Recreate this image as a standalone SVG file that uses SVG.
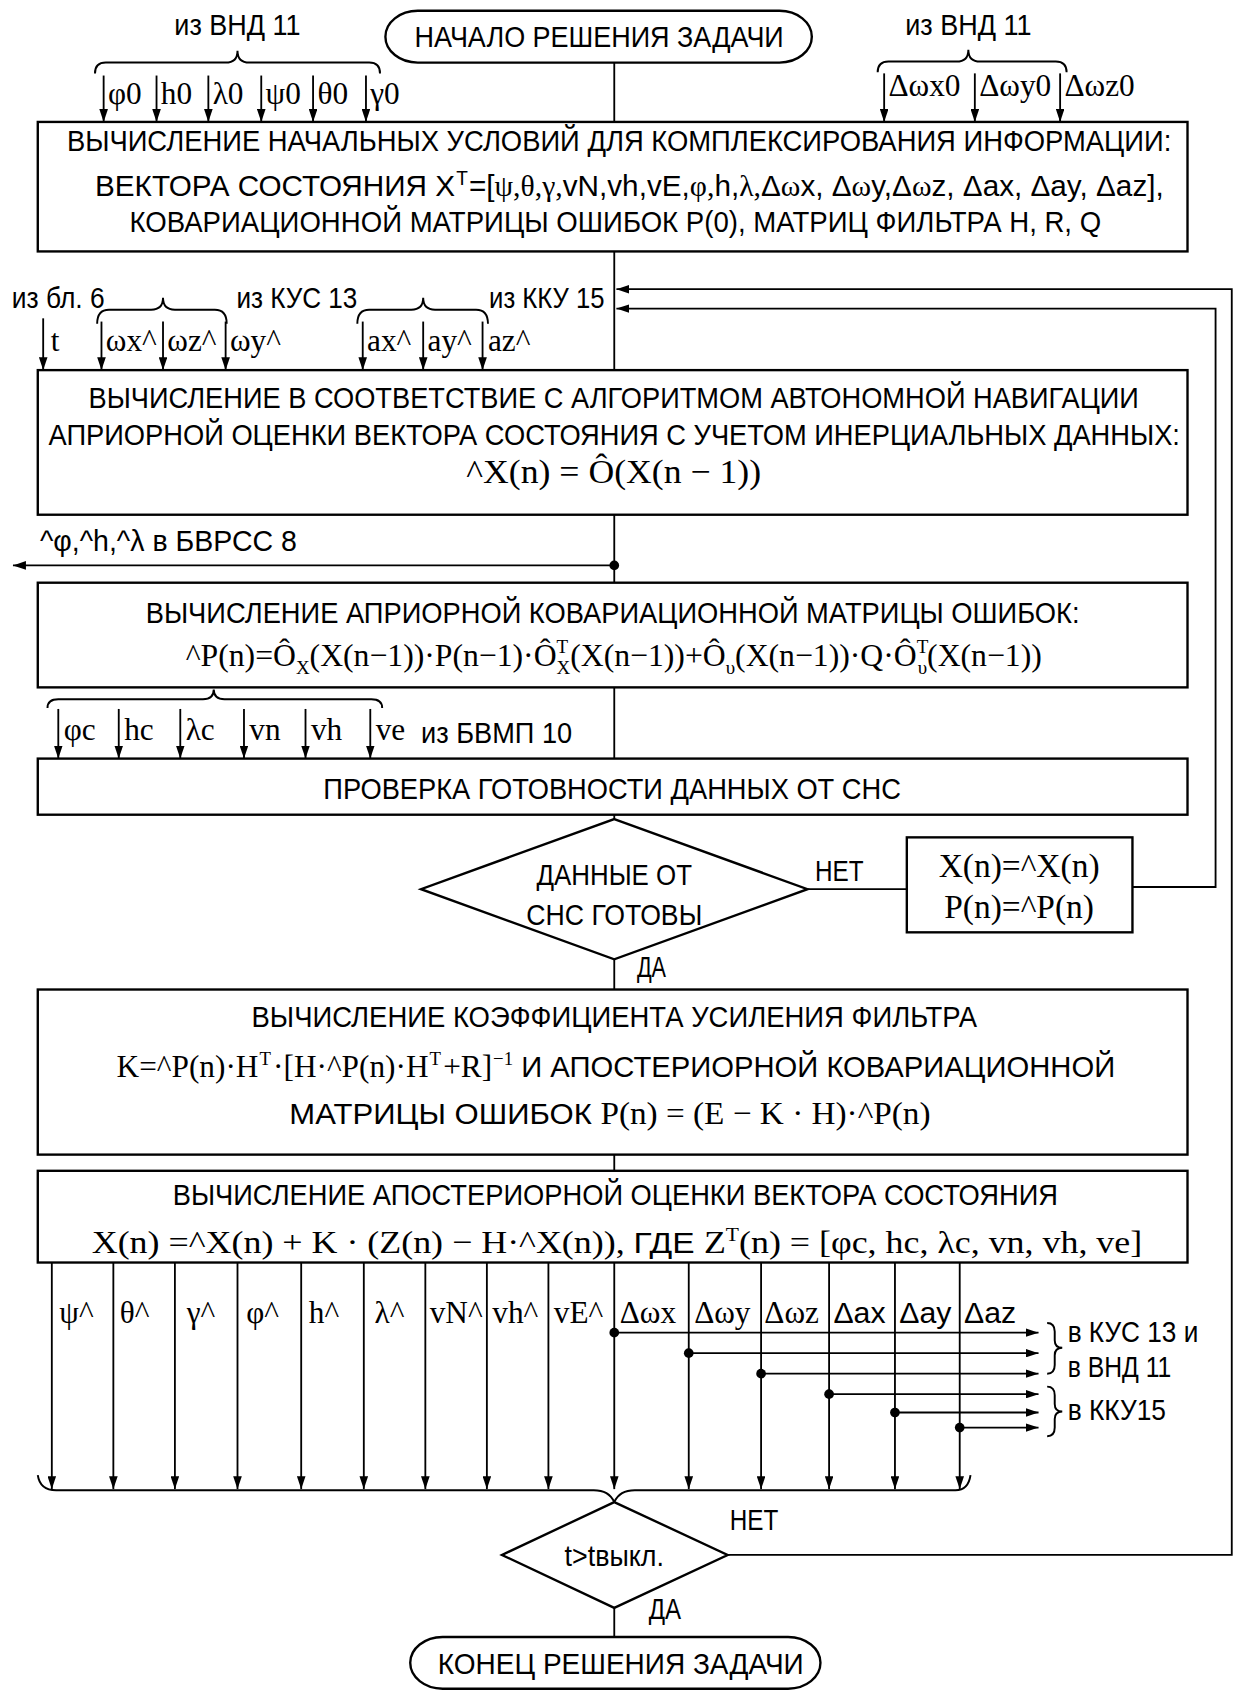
<svg xmlns="http://www.w3.org/2000/svg" width="1235" height="1692" viewBox="0 0 1235 1692">
<defs>
<style>
.box{fill:#fff;stroke:#000;stroke-width:2.2}
.ln{fill:none;stroke:#000;stroke-width:1.7}
.br{fill:none;stroke:#000;stroke-width:1.8}
.s{font-family:"Liberation Sans",Arial,sans-serif;font-size:28px;fill:#000}
.w{font-size:26.5px}
.f{font-family:"Liberation Serif","Times New Roman",serif;font-size:30px;fill:#000}
.g{font-family:"Liberation Serif","Times New Roman",serif}
.lb{font-family:"Liberation Serif","Times New Roman",serif;font-size:29px;fill:#000}
.sup{font-size:18px}
.m{text-anchor:middle}
</style>
<marker id="ah" viewBox="0 0 12 8" refX="12" refY="4" markerWidth="12" markerHeight="8" markerUnits="userSpaceOnUse" orient="auto"><path d="M0,0 L12,4 L0,8 z" fill="#000"/></marker>
</defs>
<rect width="1235" height="1692" fill="#fff"/>
<g transform="scale(1.07955,1.07908)">

<g id="connectors">
<path class="ln" d="M569,58 L569,113"/>
<path class="ln" d="M569,233 L569,343"/>
<path class="ln" d="M569,477 L569,540"/>
<path class="ln" d="M569,637 L569,703"/>
<path class="ln" d="M569,755 L569,759"/>
<path class="ln" d="M569,889 L569,917"/>
<path class="ln" d="M569,1070 L569,1085"/>
<path class="ln" d="M569,1490 L569,1517"/>
<path class="ln" d="M748,824 L840,824"/>
<path class="ln" d="M674,1441 L1141,1441 L1141,268 L571,268" marker-end="url(#ah)"/>
<path class="ln" d="M1049,822 L1126,822 L1126,286 L571,286" marker-end="url(#ah)"/>
<path class="ln" d="M569,524 L12,524" marker-end="url(#ah)"/>
<circle cx="569" cy="524" r="4.5"/>
<g class="ln" marker-end="url(#ah)">
<path d="M96,70 L96,113"/><path d="M145,70 L145,113"/><path d="M193,70 L193,113"/><path d="M242,70 L242,113"/><path d="M290,70 L290,113"/><path d="M339,70 L339,113"/>
<path d="M819,68 L819,113"/><path d="M903,68 L903,113"/><path d="M982,68 L982,113"/>
<path d="M40,295 L40,343"/><path d="M94,298 L94,343"/><path d="M151,298 L151,343"/><path d="M209,298 L209,343"/><path d="M336,298 L336,343"/><path d="M392,298 L392,343"/><path d="M447,298 L447,343"/>
<path d="M54,657 L54,703"/><path d="M110,657 L110,703"/><path d="M167,657 L167,703"/><path d="M226,657 L226,703"/><path d="M283,657 L283,703"/><path d="M343,657 L343,703"/>
<path d="M48,1170 L48,1380"/><path d="M105,1170 L105,1380"/><path d="M162,1170 L162,1380"/><path d="M220,1170 L220,1380"/><path d="M279,1170 L279,1380"/><path d="M337,1170 L337,1380"/><path d="M394,1170 L394,1380"/><path d="M451,1170 L451,1380"/><path d="M508,1170 L508,1380"/><path d="M569,1170 L569,1380"/><path d="M638,1170 L638,1380"/><path d="M705,1170 L705,1380"/><path d="M768,1170 L768,1380"/><path d="M829,1170 L829,1380"/><path d="M889,1170 L889,1380"/>
<path d="M569,1235 L962,1235"/><path d="M638,1254 L962,1254"/><path d="M705,1273 L962,1273"/><path d="M768,1292 L962,1292"/><path d="M829,1309 L962,1309"/><path d="M889,1323 L962,1323"/>
</g>
<circle cx="569" cy="1235" r="4.5"/><circle cx="638" cy="1254" r="4.5"/><circle cx="705" cy="1273" r="4.5"/><circle cx="768" cy="1292" r="4.5"/><circle cx="829" cy="1309" r="4.5"/><circle cx="889" cy="1323" r="4.5"/>
<path class="br" d="M88,68 Q88,58 98,58 L209,58 Q220,58 220,47 Q220,58 231,58 L342,58 Q352,58 352,68"/>
<path class="br" d="M813,67 Q813,57 823,57 L886,57 Q897,57 897,46 Q897,57 908,57 L978,57 Q988,57 988,67"/>
<path class="br" d="M90,300 Q90,287 101,287 L140,287 Q151,287 151,276 Q151,287 162,287 L199,287 Q210,287 210,300"/>
<path class="br" d="M331,300 Q331,287 342,287 L381,287 Q392,287 392,276 Q392,287 403,287 L441,287 Q452,287 452,300"/>
<path class="br" d="M44,656 Q44,648 54,648 L188,648 Q198,648 198,639 Q198,648 208,648 L344,648 Q354,648 354,656"/>
<path class="br" d="M970,1226 Q977,1226 977,1234 L977,1242 Q977,1249 984,1249 Q977,1249 977,1256 L977,1265 Q977,1273 970,1273"/>
<path class="br" d="M970,1285 Q977,1285 977,1293 L977,1301 Q977,1308 984,1308 Q977,1308 977,1315 L977,1323 Q977,1331 970,1331"/>
<path class="br" d="M35,1367 Q37,1381 52,1381 L550,1381 Q564,1381 569,1392 Q574,1381 588,1381 L885,1381 Q897,1381 899,1367"/>
</g>

<g id="labels">
<text class="s m" x="220" y="32" textLength="117" lengthAdjust="spacingAndGlyphs">из ВНД 11</text>
<text class="s m" x="897" y="32" textLength="117" lengthAdjust="spacingAndGlyphs">из ВНД 11</text>
<text class="lb" y="96"><tspan x="100">φ0</tspan><tspan x="149">h0</tspan><tspan x="197">λ0</tspan><tspan x="246">ψ0</tspan><tspan x="294">θ0</tspan><tspan x="343">γ0</tspan></text>
<text class="lb" y="89"><tspan x="823">Δωx0</tspan><tspan x="907">Δωy0</tspan><tspan x="986">Δωz0</tspan></text>
<text class="s" x="11" y="285" textLength="86" lengthAdjust="spacingAndGlyphs">из бл. 6</text>
<text class="s" x="219" y="285" textLength="112" lengthAdjust="spacingAndGlyphs">из КУС 13</text>
<text class="s" x="453" y="285" textLength="107" lengthAdjust="spacingAndGlyphs">из ККУ 15</text>
<text class="lb" y="325"><tspan x="47">t</tspan><tspan x="98">ωx^</tspan><tspan x="155">ωz^</tspan><tspan x="213">ωy^</tspan><tspan x="340">ax^</tspan><tspan x="396">ay^</tspan><tspan x="452">az^</tspan></text>
<text class="s" x="37" y="511" textLength="238" lengthAdjust="spacingAndGlyphs">^φ,^h,^λ  в БВРСС 8</text>
<text class="lb" y="686"><tspan x="59">φc</tspan><tspan x="115">hc</tspan><tspan x="172">λc</tspan><tspan x="231">vn</tspan><tspan x="288">vh</tspan><tspan x="348">ve</tspan></text>
<text class="s" x="390" y="689" textLength="140" lengthAdjust="spacingAndGlyphs">из БВМП 10</text>
<text class="s" x="755" y="816" textLength="45" lengthAdjust="spacingAndGlyphs">НЕТ</text>
<text class="s" x="590" y="905" textLength="27" lengthAdjust="spacingAndGlyphs">ДА</text>
<text class="lb" y="1226"><tspan x="55">ψ^</tspan><tspan x="111">θ^</tspan><tspan x="173">γ^</tspan><tspan x="228">φ^</tspan><tspan x="286">h^</tspan><tspan x="347">λ^</tspan><tspan x="398">vN^</tspan><tspan x="456">vh^</tspan><tspan x="513">vE^</tspan><tspan x="574">Δωx</tspan><tspan x="643">Δωy</tspan><tspan x="708">Δωz</tspan></text>
<text class="s" y="1226"><tspan x="772">Δax</tspan><tspan x="833">Δay</tspan><tspan x="893">Δaz</tspan></text>
<text class="s" x="989" y="1244" textLength="121" lengthAdjust="spacingAndGlyphs">в КУС 13 и</text>
<text class="s" x="989" y="1276" textLength="96" lengthAdjust="spacingAndGlyphs">в ВНД 11</text>
<text class="s" x="989" y="1316" textLength="91" lengthAdjust="spacingAndGlyphs">в ККУ15</text>
<text class="s" x="676" y="1418" textLength="45" lengthAdjust="spacingAndGlyphs">НЕТ</text>
<text class="s" x="601" y="1500" textLength="30" lengthAdjust="spacingAndGlyphs">ДА</text>
</g>

<g id="start">
<rect class="box" x="357" y="10" width="395" height="48" rx="30" ry="24"/>
<text class="s m" x="555" y="44" textLength="342" lengthAdjust="spacingAndGlyphs">НАЧАЛО РЕШЕНИЯ ЗАДАЧИ</text>
</g>

<g id="box1">
<rect class="box" x="35" y="113" width="1065" height="120"/>
<text class="s w" x="62" y="140" textLength="1023" lengthAdjust="spacingAndGlyphs">ВЫЧИСЛЕНИЕ НАЧАЛЬНЫХ УСЛОВИЙ ДЛЯ КОМПЛЕКСИРОВАНИЯ ИНФОРМАЦИИ:</text>
<text class="s" x="88" y="182" textLength="990" lengthAdjust="spacingAndGlyphs">ВЕКТОРА СОСТОЯНИЯ X<tspan class="sup" dx="1" baseline-shift="10">T</tspan><tspan dx="1">=[</tspan><tspan class="g">ψ,θ,γ,</tspan>vN,vh,vE,<tspan class="g">φ,</tspan>h,<tspan class="g">λ,</tspan>Δ<tspan class="g">ω</tspan>x, Δ<tspan class="g">ω</tspan>y,Δ<tspan class="g">ω</tspan>z, Δax, Δay, Δaz],</text>
<text class="s" x="120" y="215" textLength="900" lengthAdjust="spacingAndGlyphs">КОВАРИАЦИОННОЙ МАТРИЦЫ ОШИБОК P(0),  МАТРИЦ ФИЛЬТРА H, R, Q</text>
</g>

<g id="box2">
<rect class="box" x="35" y="343" width="1065" height="134"/>
<text class="s w" x="82" y="378" textLength="973" lengthAdjust="spacingAndGlyphs">ВЫЧИСЛЕНИЕ В СООТВЕТСТВИЕ С АЛГОРИТМОМ АВТОНОМНОЙ НАВИГАЦИИ</text>
<text class="s w" x="45" y="412" textLength="1048" lengthAdjust="spacingAndGlyphs">АПРИОРНОЙ ОЦЕНКИ ВЕКТОРА СОСТОЯНИЯ С УЧЕТОМ ИНЕРЦИАЛЬНЫХ ДАННЫХ:</text>
<text class="f" x="432" y="448" style="font-size:32px" textLength="273" lengthAdjust="spacingAndGlyphs">^X(n) = Ô(X(n − 1))</text>
</g>

<g id="box3">
<rect class="box" x="35" y="540" width="1065" height="97"/>
<text class="s" x="135" y="577" textLength="865" lengthAdjust="spacingAndGlyphs">ВЫЧИСЛЕНИЕ АПРИОРНОЙ КОВАРИАЦИОННОЙ МАТРИЦЫ ОШИБОК:</text>
<text class="f" x="172" y="617" textLength="793" lengthAdjust="spacingAndGlyphs">^P(n)=Ô<tspan class="sup" baseline-shift="-7">X</tspan>(X(n−1))·P(n−1)·Ô<tspan class="sup" baseline-shift="12">T</tspan><tspan class="sup" dx="-11" baseline-shift="-7">X</tspan>(X(n−1))+Ô<tspan class="sup" baseline-shift="-7">υ</tspan>(X(n−1))·Q·Ô<tspan class="sup" baseline-shift="12">T</tspan><tspan class="sup" dx="-10" baseline-shift="-7">υ</tspan>(X(n−1))</text>
</g>

<g id="box4">
<rect class="box" x="35" y="703" width="1065" height="52"/>
<text class="s m" x="567" y="740" textLength="535" lengthAdjust="spacingAndGlyphs">ПРОВЕРКА ГОТОВНОСТИ ДАННЫХ ОТ СНС</text>
</g>

<g id="decision1">
<polygon class="box" points="569,759 748,824 569,889 390,824"/>
<text class="s m" x="569" y="820" textLength="144" lengthAdjust="spacingAndGlyphs">ДАННЫЕ ОТ</text>
<text class="s m" x="569" y="857" textLength="163" lengthAdjust="spacingAndGlyphs">СНС ГОТОВЫ</text>
</g>

<g id="assign">
<rect class="box" x="840" y="776" width="209" height="88"/>
<text class="f m" x="944" y="813" style="font-size:31px">X(n)=^X(n)</text>
<text class="f m" x="944" y="851" style="font-size:31px">P(n)=^P(n)</text>
</g>

<g id="box5">
<rect class="box" x="35" y="917" width="1065" height="153"/>
<text class="s" x="233" y="952" textLength="672" lengthAdjust="spacingAndGlyphs">ВЫЧИСЛЕНИЕ КОЭФФИЦИЕНТА УСИЛЕНИЯ ФИЛЬТРА</text>
<text class="f" x="108" y="998" textLength="925" lengthAdjust="spacingAndGlyphs">K=^P(n)·H<tspan class="sup" dx="1" baseline-shift="11">T</tspan><tspan dx="2">·[H·^P(n)·H</tspan><tspan class="sup" dx="1" baseline-shift="11">T</tspan><tspan dx="2">+R]</tspan><tspan class="sup" dx="1" baseline-shift="11">−1</tspan><tspan class="s"> И  АПОСТЕРИОРНОЙ КОВАРИАЦИОННОЙ</tspan></text>
<text class="s" x="268" y="1042" textLength="594" lengthAdjust="spacingAndGlyphs">МАТРИЦЫ ОШИБОК  <tspan class="f">P(n) = (E − K · H)·^P(n)</tspan></text>
</g>

<g id="box6">
<rect class="box" x="35" y="1085" width="1065" height="85"/>
<text class="s" x="160" y="1117" textLength="820" lengthAdjust="spacingAndGlyphs">ВЫЧИСЛЕНИЕ АПОСТЕРИОРНОЙ ОЦЕНКИ ВЕКТОРА СОСТОЯНИЯ</text>
<text class="f" x="85" y="1161" textLength="973" lengthAdjust="spacingAndGlyphs">X(n) =^X(n) + K · (Z(n) − H·^X(n)),  <tspan class="s">ГДЕ </tspan>Z<tspan class="sup" baseline-shift="11">T</tspan>(n) = [φc, hc, λc, vn, vh, ve]</text>
</g>

<g id="decision2">
<polygon class="box" points="569,1392 674,1441 569,1490 465,1441"/>
<text class="s m" x="569" y="1451" textLength="92" lengthAdjust="spacingAndGlyphs">t&gt;tвыкл.</text>
</g>

<g id="end">
<rect class="box" x="380" y="1517" width="380" height="48" rx="30" ry="24"/>
<text class="s m" x="575" y="1551" textLength="339" lengthAdjust="spacingAndGlyphs">КОНЕЦ РЕШЕНИЯ ЗАДАЧИ</text>
</g>

</g>
</svg>
